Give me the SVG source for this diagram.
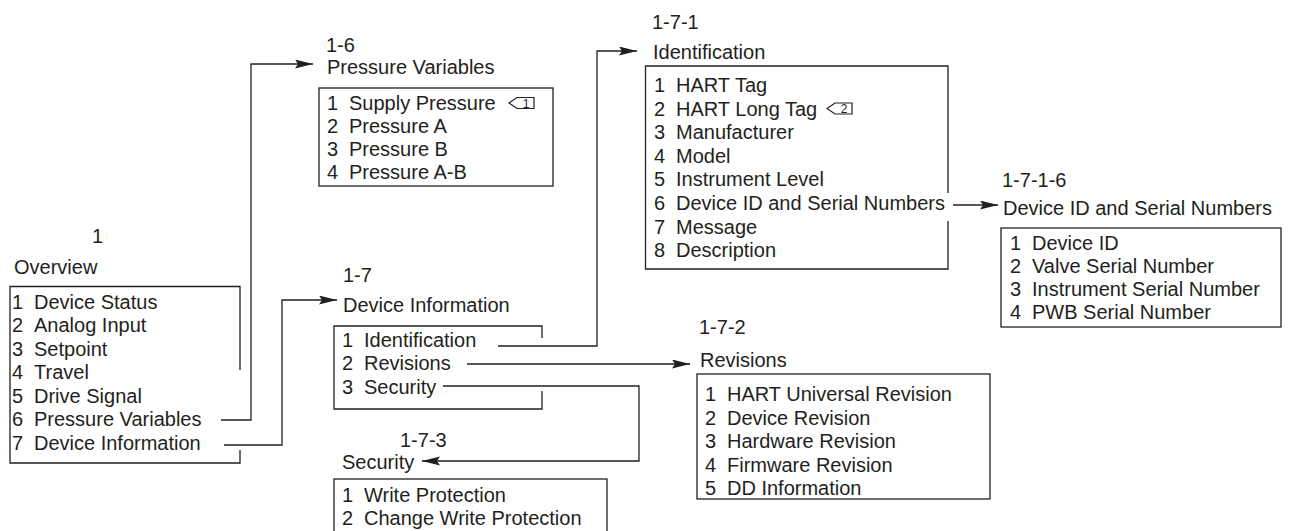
<svg xmlns="http://www.w3.org/2000/svg" width="1291" height="531" viewBox="0 0 1291 531">
<style>
text{font-family:"Liberation Sans",Arial,sans-serif;font-size:20px;fill:#231f20}
.tag{font-size:12px;text-anchor:middle}
.box{fill:none;stroke:#231f20;stroke-width:1.3}
.conn path{fill:none;stroke:#231f20;stroke-width:1.3}
.tagshape{fill:none;stroke:#231f20;stroke-width:1.2}
</style>
<defs>
<marker id="arr" markerUnits="userSpaceOnUse" markerWidth="20" markerHeight="10" refX="18" refY="4.5" orient="auto">
<path d="M0,0 L18,4.5 L0,9 L3,4.5 Z" fill="#231f20"/>
</marker>
</defs>
<rect width="1291" height="531" fill="#ffffff"/>

<g id="overview">
<text x="92" y="243">1</text>
<text x="14" y="274">Overview</text>
<path class="box" d="M240 370 V286.5 H10 V463 H240 V450"/>
<text x="12" y="308.5">1</text><text x="34" y="308.5">Device Status</text>
<text x="12" y="332">2</text><text x="34" y="332">Analog Input</text>
<text x="12" y="355.5">3</text><text x="34" y="355.5">Setpoint</text>
<text x="12" y="379">4</text><text x="34" y="379">Travel</text>
<text x="12" y="402.5">5</text><text x="34" y="402.5">Drive Signal</text>
<text x="12" y="426">6</text><text x="34" y="426">Pressure Variables</text>
<text x="12" y="449.5">7</text><text x="34" y="449.5">Device Information</text>
</g>

<g id="pressure-variables">
<text x="326" y="52">1-6</text>
<text x="327" y="74">Pressure Variables</text>
<rect class="box" x="319" y="88" width="234" height="98"/>
<text x="327" y="110">1</text><text x="349" y="110">Supply Pressure</text>
<polygon class="tagshape" points="509,103 517,97.5 534,97.5 534,108.5 517,108.5"/>
<text class="tag" x="526" y="107.5">1</text>
<text x="327" y="133">2</text><text x="349" y="133">Pressure A</text>
<text x="327" y="156">3</text><text x="349" y="156">Pressure B</text>
<text x="327" y="179">4</text><text x="349" y="179">Pressure A-B</text>
</g>

<g id="identification">
<text x="652" y="29">1-7-1</text>
<text x="653" y="59">Identification</text>
<path class="box" d="M948 193 V66 H645.5 V269 H948 V221"/>
<text x="654" y="92">1</text><text x="676" y="92">HART Tag</text>
<text x="654" y="115.6">2</text><text x="676" y="115.6">HART Long Tag</text>
<polygon class="tagshape" points="827,108.6 835,103 852,103 852,114 835,114"/>
<text class="tag" x="844" y="113">2</text>
<text x="654" y="139.2">3</text><text x="676" y="139.2">Manufacturer</text>
<text x="654" y="162.8">4</text><text x="676" y="162.8">Model</text>
<text x="654" y="186.4">5</text><text x="676" y="186.4">Instrument Level</text>
<text x="654" y="210">6</text><text x="676" y="210">Device ID and Serial Numbers</text>
<text x="654" y="233.6">7</text><text x="676" y="233.6">Message</text>
<text x="654" y="257.2">8</text><text x="676" y="257.2">Description</text>
</g>

<g id="device-id-serial">
<text x="1002" y="187">1-7-1-6</text>
<text x="1003" y="215">Device ID and Serial Numbers</text>
<rect class="box" x="1001" y="228" width="280" height="99"/>
<text x="1010" y="250">1</text><text x="1032" y="250">Device ID</text>
<text x="1010" y="273">2</text><text x="1032" y="273">Valve Serial Number</text>
<text x="1010" y="296">3</text><text x="1032" y="296">Instrument Serial Number</text>
<text x="1010" y="319">4</text><text x="1032" y="319">PWB Serial Number</text>
</g>

<g id="device-information">
<text x="343" y="282">1-7</text>
<text x="343" y="312">Device Information</text>
<path class="box" d="M542 338 V326 H334 V409 H542 V391"/>
<text x="342" y="347">1</text><text x="364" y="347">Identification</text>
<text x="342" y="370">2</text><text x="364" y="370">Revisions</text>
<text x="342" y="393.5">3</text><text x="364" y="393.5">Security</text>
</g>

<g id="revisions">
<text x="699" y="334">1-7-2</text>
<text x="700" y="367">Revisions</text>
<rect class="box" x="697" y="374" width="293" height="125"/>
<text x="705" y="401">1</text><text x="727" y="401">HART Universal Revision</text>
<text x="705" y="424.5">2</text><text x="727" y="424.5">Device Revision</text>
<text x="705" y="448">3</text><text x="727" y="448">Hardware Revision</text>
<text x="705" y="471.5">4</text><text x="727" y="471.5">Firmware Revision</text>
<text x="705" y="495">5</text><text x="727" y="495">DD Information</text>
</g>

<g id="security">
<text x="400" y="447">1-7-3</text>
<text x="342" y="469">Security</text>
<rect class="box" x="334" y="479" width="273" height="60"/>
<text x="342" y="502">1</text><text x="364" y="502">Write Protection</text>
<text x="342" y="525">2</text><text x="364" y="525">Change Write Protection</text>
</g>

<g id="connectors" class="conn">
<path d="M221 420 H251 V64 H313" marker-end="url(#arr)"/>
<path d="M224 445 H282 V300 H337" marker-end="url(#arr)"/>
<path d="M498 346 H597 V51 H637" marker-end="url(#arr)"/>
<path d="M467 364 H690" marker-end="url(#arr)"/>
<path d="M443 386 H639 V461 H422" marker-end="url(#arr)"/>
<path d="M953 205 H998" marker-end="url(#arr)"/>
</g>
</svg>
